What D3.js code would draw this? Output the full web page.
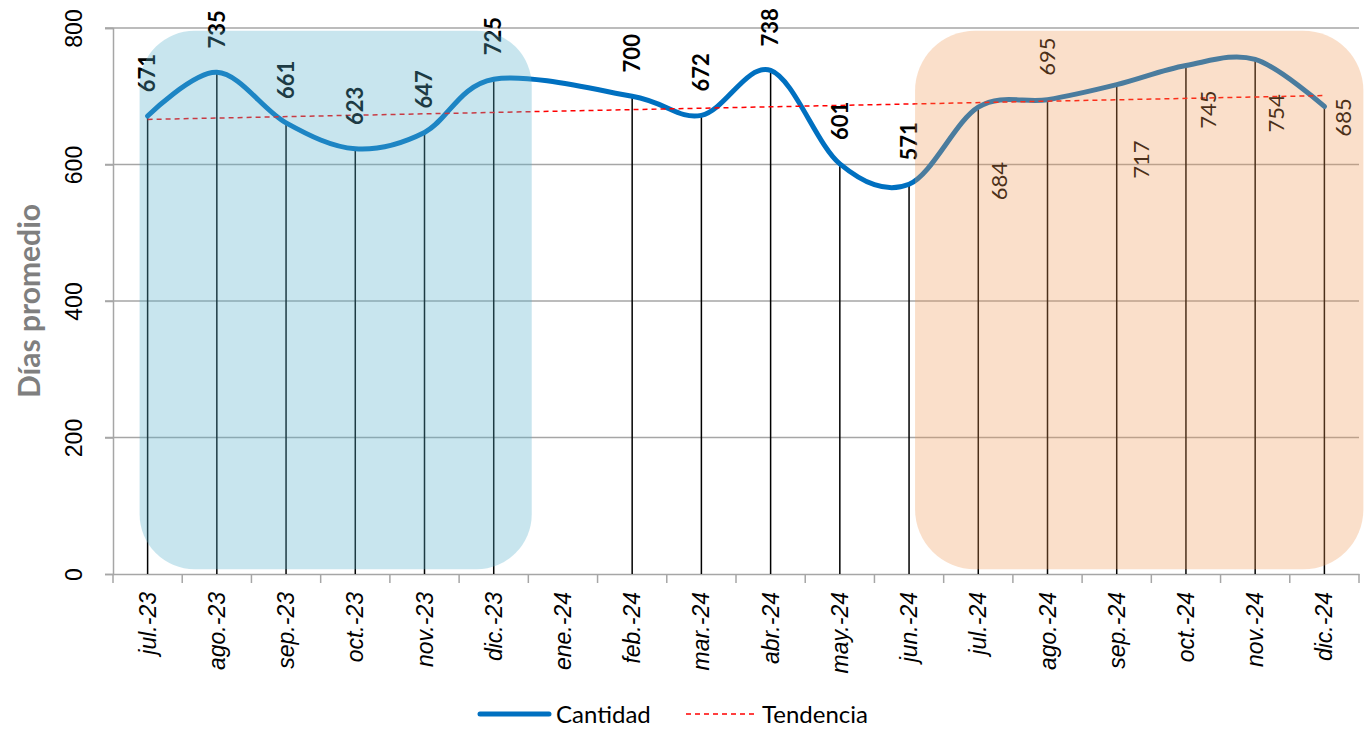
<!DOCTYPE html>
<html>
<head>
<meta charset="utf-8">
<script src="https://cdn.jsdelivr.net/npm/d3@7"></script>
<style>
  body { margin: 0; background: #fff; }
  svg { display: block; font-family: Lato, "Noto Sans", sans-serif; }
</style>
</head>
<body>
<div id="chart"></div>
<script>
"use strict";

// months shown on the x axis
var months = ["jul.-23","ago.-23","sep.-23","oct.-23","nov.-23","dic.-23","ene.-24","feb.-24","mar.-24",
  "abr.-24","may.-24","jun.-24","jul.-24","ago.-24","sep.-24","oct.-24","nov.-24","dic.-24"];
// average days (ene.-24 has no value)
var cantidad = [671,735,661,623,647,725,null,700,672,738,601,571,684,695,717,745,754,685];
// trend line read at first and last month
var tendencia = [666,701];
var yTicks = [0,200,400,600,800];

var width = 1371, height = 731;
var margin = {top: 28, right: 12, bottom: 157, left: 113};
var plotW = width - margin.left - margin.right,
    plotH = height - margin.top - margin.bottom;

var x = d3.scaleBand().domain(months).range([0, plotW]);
var y = d3.scaleLinear().domain([0, 800]).range([plotH, 0]);
var cx = function(m) { return x(m) + x.bandwidth() / 2; };

var svg = d3.select("#chart").append("svg")
  .attr("width", width)
  .attr("height", height);

var g = svg.append("g")
  .attr("transform", "translate(" + margin.left + "," + margin.top + ")");

// gridlines
g.selectAll(".grid").data(yTicks.filter(function(d) { return d > 0; }))
  .enter().append("line")
  .attr("x1", -8).attr("x2", plotW)
  .attr("y1", function(d) { return y(d); }).attr("y2", function(d) { return y(d); })
  .attr("stroke", "#a6a6a6").attr("stroke-width", 1.5);

// y axis
var yAxis = g.append("g").call(d3.axisLeft(y).tickValues(yTicks).tickSize(8).tickFormat(d3.format("d")));
yAxis.select(".domain").attr("stroke", "#a6a6a6").attr("stroke-width", 1.5);
yAxis.selectAll(".tick line").attr("stroke", "#a6a6a6").attr("stroke-width", 1.5);
yAxis.selectAll(".tick text")
  .attr("x", 0).attr("y", 0).attr("dy", 0)
  .attr("transform", "translate(-31,0) rotate(-90)")
  .attr("text-anchor", "middle")
  .attr("font-size", 23).attr("fill", "#000");

// x axis
var xAxis = g.append("g").attr("transform", "translate(0," + plotH + ")")
  .call(d3.axisBottom(x).tickSize(0));
xAxis.select(".domain").attr("stroke", "#a6a6a6").attr("stroke-width", 1.5);
xAxis.selectAll(".tick text")
  .attr("x", 0).attr("y", 0).attr("dy", 0)
  .attr("transform", "translate(8,18) rotate(-90)")
  .attr("text-anchor", "end")
  .attr("font-size", 23).attr("font-style", "italic").attr("fill", "#000");
xAxis.selectAll(".bound").data(months.map(function(m) { return x(m); }).concat([plotW]))
  .enter().append("line").attr("class", "bound")
  .attr("x1", function(d) { return d; }).attr("x2", function(d) { return d; })
  .attr("y1", 0).attr("y2", 9)
  .attr("stroke", "#a6a6a6").attr("stroke-width", 1.5);

// y title
svg.append("text")
  .attr("transform", "translate(40," + (margin.top + plotH / 2) + ") rotate(-90)")
  .attr("text-anchor", "middle")
  .attr("font-size", 30).attr("font-weight", "bold").attr("fill", "#7f7f7f")
  .text("Días promedio");

var pts = months.map(function(m, i) { return {m: m, v: cantidad[i], i: i}; })
  .filter(function(d) { return d.v !== null; });

// drop lines
g.selectAll(".drop").data(pts).enter().append("line")
  .attr("x1", function(d) { return cx(d.m); }).attr("x2", function(d) { return cx(d.m); })
  .attr("y1", function(d) { return y(d.v); }).attr("y2", plotH)
  .attr("stroke", "#000").attr("stroke-width", 1.5);

// main line
var line = d3.line()
  .x(function(d) { return cx(d.m); })
  .y(function(d) { return y(d.v); })
  .curve(d3.curveCardinal.tension(0));
g.append("path").datum(pts)
  .attr("d", line)
  .attr("fill", "none").attr("stroke", "#0070c0").attr("stroke-width", 5)
  .attr("stroke-linecap", "round");

// trend
g.append("line")
  .attr("x1", cx(months[0])).attr("x2", cx(months[months.length - 1]))
  .attr("y1", y(tendencia[0])).attr("y2", y(tendencia[1]))
  .attr("stroke", "#ff0000").attr("stroke-width", 1.5).attr("stroke-dasharray", "5,4");

// label offsets (dx, dy from point to label centre)
var labelOff = {
  "jul.-24": [21, 74], "sep.-24": [25, 75], "oct.-24": [22, 44],
  "nov.-24": [21, 54], "dic.-24": [19, 11]
};
g.selectAll(".lbl").data(pts).enter().append("text")
  .attr("transform", function(d) {
    var o = labelOff[d.m] || [0, -43];
    return "translate(" + (cx(d.m) + o[0]) + "," + (y(d.v) + o[1]) + ") rotate(-90)";
  })
  .attr("text-anchor", "middle").attr("dy", "0.35em")
  .attr("font-size", 22)
  .attr("font-weight", function(d) { return d.i < 12 ? "bold" : "normal"; })
  .attr("fill", "#000")
  .text(function(d) { return d.v; });

// highlight boxes (drawn on top, translucent)
g.append("rect")
  .attr("x", cx(months[0]) - 8).attr("y", y(796))
  .attr("width", cx(months[5]) + 38 - (cx(months[0]) - 8))
  .attr("height", y(7) - y(796))
  .attr("rx", 55).attr("ry", 55)
  .attr("fill", "rgb(89,176,204)").attr("fill-opacity", 0.33);
g.append("rect")
  .attr("x", cx(months[11]) + 6).attr("y", y(796))
  .attr("width", cx(months[17]) + 39 - (cx(months[11]) + 6))
  .attr("height", y(7) - y(796))
  .attr("rx", 60).attr("ry", 60)
  .attr("fill", "rgb(239,152,84)").attr("fill-opacity", 0.31);

// legend
var leg = svg.append("g").attr("transform", "translate(0,714)");
leg.append("line").attr("x1", 480).attr("x2", 549).attr("y1", 0).attr("y2", 0)
  .attr("stroke", "#0070c0").attr("stroke-width", 5).attr("stroke-linecap", "round");
leg.append("text").attr("x", 556).attr("y", 9).attr("font-size", 24).text("Cantidad");
leg.append("line").attr("x1", 686).attr("x2", 756).attr("y1", 0).attr("y2", 0)
  .attr("stroke", "#ff0000").attr("stroke-width", 1.5).attr("stroke-dasharray", "5,4");
leg.append("text").attr("x", 762).attr("y", 9).attr("font-size", 24).text("Tendencia");
</script>
</body>
</html>
